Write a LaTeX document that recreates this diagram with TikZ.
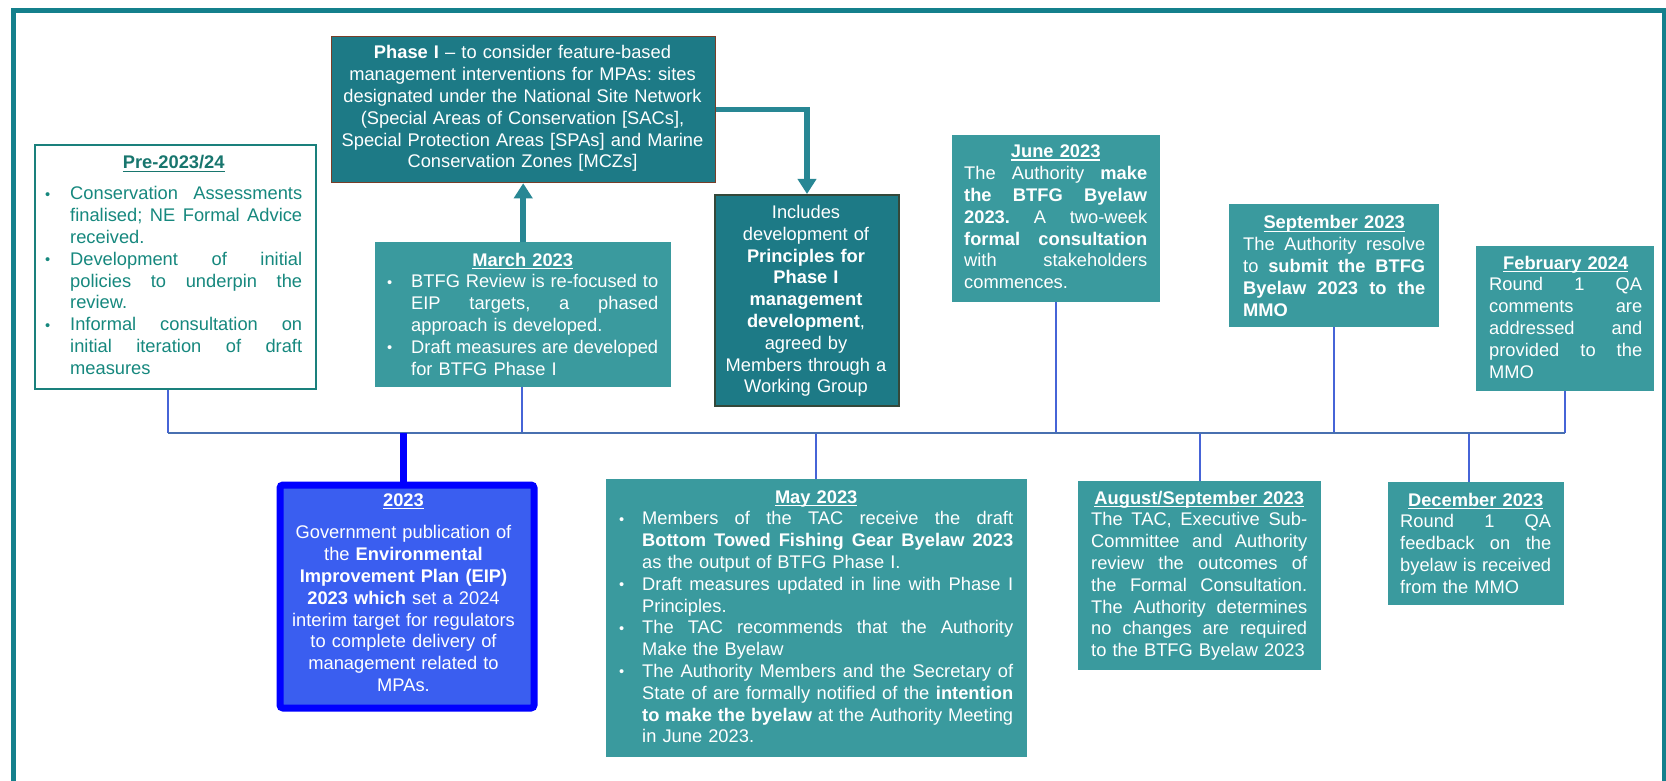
\documentclass[tikz,border=0pt]{standalone}
\usepackage{fontspec}
\setmainfont{Liberation Sans}
\usetikzlibrary{arrows.meta}

\definecolor{frameteal}{RGB}{20,128,140}
\definecolor{tealdark}{RGB}{29,122,134}
\definecolor{teallight}{RGB}{58,154,158}
\definecolor{brownedge}{RGB}{120,62,40}
\definecolor{oliveedge}{RGB}{52,72,58}
\definecolor{pretext}{RGB}{22,136,126}
\definecolor{pretitle}{RGB}{24,118,110}
\definecolor{preedge}{RGB}{26,128,124}
\definecolor{eipfill}{RGB}{58,94,240}
\definecolor{eipedge}{RGB}{0,0,255}
\definecolor{arrowteal}{RGB}{40,135,148}
\definecolor{tlblue}{RGB}{72,112,176}
\definecolor{connblue}{RGB}{70,100,215}

% justified line of a given width (pt): every word space stretches evenly
\newcommand\J[2]{\leavevmode\hbox to #1pt{%
  \spaceskip=\fontdimen2\font plus 1fill\relax
  \xspaceskip=\spaceskip #2}}
% bold underlined heading
\newcommand\ttl[1]{\setbox0\hbox{\bfseries #1}\rlap{\rule[-2.8pt]{\wd0}{1.3pt}}\box0}
% bullet column of a given width (pt)
\newcommand\bul[1]{\makebox[#1pt][l]{\raisebox{0.5pt}{\scalebox{0.8}{\textbullet}}}}

\tikzset{
  box/.style={rectangle, inner sep=0pt, anchor=north west},
  tealbox/.style={box, fill=teallight},
  darkbox/.style={box, fill=tealdark},
  txt/.style={inner sep=0pt, font=\fontsize{18.3}{21.8}\selectfont\frenchspacing, text=white},
  tline/.style={draw=tlblue, line width=1.8pt},
  conn/.style={draw=connblue, line width=1.6pt},
  arr/.style={draw=arrowteal, line width=5.5pt, -{Triangle[width=18pt,length=15pt]}},
}

\begin{document}
\begin{tikzpicture}[x=1pt, y=-1pt]
\useasboundingbox (0,0) rectangle (1666,781);
\clip (0,0) rectangle (1666,781);
\fill[white] (0,0) rectangle (1666,781);

% outer frame
\draw[frameteal, line width=5pt] (13.5,10.5) rectangle (1664,800);

% ---- boxes ----
\node[box, fill=white, draw=preedge, line width=2pt, minimum width=281pt, minimum height=244pt] (pre) at (34,144) {};
\node[darkbox, draw=brownedge, line width=1.5pt, minimum width=384pt, minimum height=146pt] (phase) at (330.75,35.75) {};
\node[darkbox, draw=oliveedge, line width=2pt, minimum width=184pt, minimum height=211pt] (incl) at (714,194) {};
\node[tealbox, minimum width=296pt, minimum height=145pt] (march) at (375,242) {};
\node[tealbox, minimum width=208pt, minimum height=167pt] (june) at (952,135) {};
\node[tealbox, minimum width=210pt, minimum height=123pt] (sept) at (1229,204) {};
\node[tealbox, minimum width=178pt, minimum height=145pt] (feb) at (1476,246) {};
\node[box, fill=eipfill, draw=eipedge, line width=7pt, rounded corners=3pt, minimum width=254pt, minimum height=223pt] (eip) at (276.5,481.5) {};
\node[tealbox, minimum width=421pt, minimum height=278pt] (may) at (606,479) {};
\node[tealbox, minimum width=243pt, minimum height=189pt] (aug) at (1078,481) {};
\node[tealbox, minimum width=176pt, minimum height=123pt] (dec) at (1388,482) {};

% ---- timeline ----
\coordinate (tPre) at (168,433);
\coordinate (tEip) at (403.5,433);
\coordinate (tMar) at (522,433);
\coordinate (tMay) at (816,433);
\coordinate (tJun) at (1056,433);
\coordinate (tAug) at (1200,433);
\coordinate (tSep) at (1334,433);
\coordinate (tDec) at (1469,433);
\coordinate (tFeb) at (1565,433);

\draw[conn] (tPre) -- (tPre |- pre.south);
\draw[conn] (tMar) -- (tMar |- march.south);
\draw[conn] (tJun) -- (tJun |- june.south);
\draw[conn] (tSep) -- (tSep |- sept.south);
\draw[conn] (tFeb) -- (tFeb |- feb.south);
\draw[conn] (tMay) -- (tMay |- may.north);
\draw[conn] (tAug) -- (tAug |- aug.north);
\draw[conn] (tDec) -- (tDec |- dec.north);
\draw[tline] (tPre) -- (tFeb);
\draw[eipedge, line width=7pt] (tEip) -- (tEip |- eip.north);

% ---- arrows ----
\draw[arr] (march.north) -- (march.north |- phase.south);
\draw[arr] (phase.east) -| (incl.north);

% ---- texts ----
\node[txt, text=pretext, anchor=base west, text width=257pt, align=left] (pretxt) at (45,169) {%
\makebox[257pt][c]{\color{pretitle}\ttl{Pre-2023/24}}\\[9.2pt]
\bul{25}\J{232}{Conservation Assessments}\\
\hspace*{25pt}\J{232}{finalised; NE Formal Advice}\\
\hspace*{25pt}received.\\
\bul{25}\J{232}{Development of initial}\\
\hspace*{25pt}\J{232}{policies to underpin the}\\
\hspace*{25pt}review.\\
\bul{25}\J{232}{Informal consultation on}\\
\hspace*{25pt}\J{232}{initial iteration of draft}\\
\hspace*{25pt}measures};

\node[txt, anchor=base, text width=380pt, align=center] (phasetxt) at (522.5,59) {%
\textbf{Phase I} – to consider feature-based\\
management interventions for MPAs: sites\\
designated under the National Site Network\\
(Special Areas of Conservation [SACs],\\
Special Protection Areas [SPAs] and Marine\\
Conservation Zones [MCZs]};

\node[txt, anchor=base, text width=180pt, align=center] (incltxt) at (806,218.5) {%
Includes\\
development of\\
\textbf{Principles for}\\
\textbf{Phase I}\\
\textbf{management}\\
\textbf{development},\\
agreed by\\
Members through a\\
Working Group};

\node[txt, anchor=base west, text width=271pt, align=left] (martxt) at (387,266) {%
\makebox[271pt][c]{\ttl{March 2023}}\\
\bul{24}\J{247}{BTFG Review is re-focused to}\\
\hspace*{24pt}\J{247}{EIP targets, a phased}\\
\hspace*{24pt}approach is developed.\\
\bul{24}\J{247}{Draft measures are developed}\\
\hspace*{24pt}for BTFG Phase I};

\node[txt, anchor=base west, text width=183pt, align=left] (juntxt) at (964,158) {%
\makebox[183pt][c]{\ttl{June 2023}}\\
\J{183}{The Authority \textbf{make}}\\
\J{183}{\textbf{the BTFG Byelaw}}\\
\J{183}{\textbf{2023.} A two-week}\\
\J{183}{\textbf{formal consultation}}\\
\J{183}{with stakeholders}\\
commences.};

\node[txt, anchor=base west, text width=182pt, align=left] (septxt) at (1243,229) {%
\makebox[182pt][c]{\ttl{September 2023}}\\
\J{182}{The Authority resolve}\\
\J{182}{to \textbf{submit the BTFG}}\\
\J{182}{\textbf{Byelaw 2023 to the}}\\
\textbf{MMO}};

\node[txt, anchor=base west, text width=153pt, align=left] (febtxt) at (1489,269) {%
\makebox[153pt][c]{\ttl{February 2024}}\\
\J{153}{Round 1 QA}\\
\J{153}{comments are}\\
\J{153}{addressed and}\\
\J{153}{provided to the}\\
MMO};

\node[txt, anchor=base, text width=240pt, align=center] (eiptxt) at (403.5,506) {%
\ttl{2023}\\[11pt]
Government publication of\\
the \textbf{Environmental}\\
\textbf{Improvement Plan (EIP)}\\
\textbf{2023 which} set a 2024\\
interim target for regulators\\
to complete delivery of\\
management related to\\
MPAs.};

\node[txt, anchor=base west, text width=394pt, align=left] (maytxt) at (619,503) {%
\makebox[394pt][c]{\ttl{May 2023}}\\
\bul{23}\J{371}{Members of the TAC receive the draft}\\
\hspace*{23pt}\J{371}{\textbf{Bottom Towed Fishing Gear Byelaw 2023}}\\
\hspace*{23pt}as the output of BTFG Phase I.\\
\bul{23}\J{371}{Draft measures updated in line with Phase I}\\
\hspace*{23pt}Principles.\\
\bul{23}\J{371}{The TAC recommends that the Authority}\\
\hspace*{23pt}Make the Byelaw\\
\bul{23}\J{371}{The Authority Members and the Secretary of}\\
\hspace*{23pt}\J{371}{State of are formally notified of the \textbf{intention}}\\
\hspace*{23pt}\J{371}{\textbf{to make the byelaw} at the Authority Meeting}\\
\hspace*{23pt}in June 2023.};

\node[txt, anchor=base west, text width=216pt, align=left] (augtxt) at (1091,504) {%
\makebox[216pt][c]{\ttl{August/September 2023}}\\
\J{216}{The TAC, Executive Sub-}\\
\J{216}{Committee and Authority}\\
\J{216}{review the outcomes of}\\
\J{216}{the Formal Consultation.}\\
\J{216}{The Authority determines}\\
\J{216}{no changes are required}\\
to the BTFG Byelaw 2023};

\node[txt, anchor=base west, text width=151pt, align=left] (dectxt) at (1400,506) {%
\makebox[151pt][c]{\ttl{December 2023}}\\
\J{151}{Round 1 QA}\\
\J{151}{feedback on the}\\
\J{151}{byelaw is received}\\
from the MMO};

\end{tikzpicture}
\end{document}
